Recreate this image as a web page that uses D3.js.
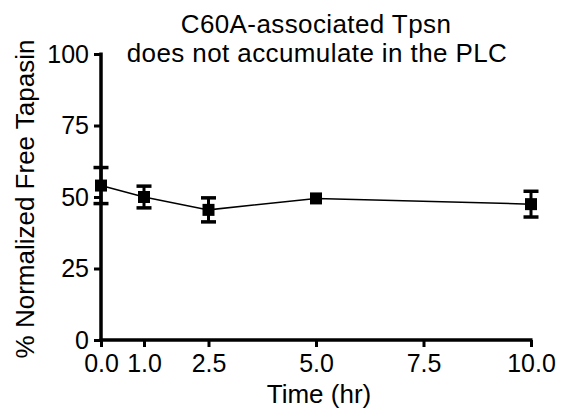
<!DOCTYPE html>
<html>
<head>
<meta charset="utf-8">
<script src="https://cdn.jsdelivr.net/npm/d3@7"></script>
<style>
body { margin: 0; background: #fff; }
text { font-family: "Liberation Sans", Arial, Helvetica, sans-serif; fill: #000; }
</style>
</head>
<body>
<svg width="565" height="411"></svg>
<script>
// data
var times = [0, 1, 2.5, 5, 10];
var means = [54, 50, 45.5, 49.5, 47.5];
var errs = [6.3, 3.8, 4.2, 0.4, 4.5];
var xTicks = [0, 1, 2.5, 5, 7.5, 10];
var yTicks = [0, 25, 50, 75, 100];

var svg = d3.select("svg");
var x = d3.scaleLinear().domain([0, 10]).range([101, 531]);
var y = d3.scaleLinear().domain([0, 100]).range([340, 54]);

var fs = 25;   // tick labels
var fsT = 26;  // titles

// axes
var yAxis = d3.axisLeft(y).tickValues(yTicks).tickSize(7).tickPadding(5).tickFormat(d3.format("d"));
var xAxis = d3.axisBottom(x).tickValues(xTicks).tickSize(7).tickPadding(7).tickFormat(d3.format(".1f"));

var gy = svg.append("g").attr("transform", "translate(101,0)").call(yAxis);
var gx = svg.append("g").attr("transform", "translate(0,340)").call(xAxis);
[gy, gx].forEach(function(g) {
    g.select(".domain").remove();
    g.selectAll("line").attr("stroke", "#000").attr("stroke-width", 3);
    g.selectAll("text").style("font-size", fs + "px").attr("fill", "#000")
        .style("font-family", "'Liberation Sans', Arial, sans-serif");
});
// axis lines
svg.append("line").attr("x1", x(0)).attr("x2", x(0)).attr("y1", y(100) - 1.5).attr("y2", y(0) + 1.5)
    .attr("stroke", "#000").attr("stroke-width", 3.5);
svg.append("line").attr("x1", x(0) - 1.5).attr("x2", x(10) + 1.5).attr("y1", y(0)).attr("y2", y(0))
    .attr("stroke", "#000").attr("stroke-width", 3.5);

// connecting line
var pts = times.map(function(t, i) { return [t, means[i]]; });
svg.append("path")
    .datum(pts)
    .attr("d", d3.line().x(function(d) { return x(d[0]); }).y(function(d) { return y(d[1]); }))
    .attr("fill", "none").attr("stroke", "#000").attr("stroke-width", 1.5);

// error bars
var cap = 7.5;
var eb = svg.append("g");
times.forEach(function(t, i) {
    var cx = x(t), hi = y(means[i] + errs[i]), lo = y(means[i] - errs[i]);
    eb.append("line").attr("x1", cx).attr("x2", cx).attr("y1", hi).attr("y2", lo)
        .attr("stroke", "#000").attr("stroke-width", 3);
    if (errs[i] > 1) {
        eb.append("line").attr("x1", cx - cap).attr("x2", cx + cap).attr("y1", hi).attr("y2", hi)
            .attr("stroke", "#000").attr("stroke-width", 3.5);
        eb.append("line").attr("x1", cx - cap).attr("x2", cx + cap).attr("y1", lo).attr("y2", lo)
            .attr("stroke", "#000").attr("stroke-width", 3.5);
    }
});

// markers
var sz = 12;
svg.selectAll("rect.pt")
    .data(pts)
    .enter()
    .append("rect")
    .attr("class", "pt")
    .attr("x", function(d) { return x(d[0]) - sz / 2; })
    .attr("y", function(d) { return y(d[1]) - sz / 2; })
    .attr("width", sz)
    .attr("height", sz)
    .attr("fill", "#000");

// title
svg.append("text").attr("x", 316).attr("y", 33).attr("text-anchor", "middle")
    .style("font-size", fsT + "px").style("letter-spacing", "0.4px").text("C60A-associated Tpsn");
svg.append("text").attr("x", 317).attr("y", 62).attr("text-anchor", "middle")
    .style("font-size", fsT + "px").style("letter-spacing", "0.4px").text("does not accumulate in the PLC");

// axis titles
svg.append("text").attr("x", 319).attr("y", 403).attr("text-anchor", "middle")
    .style("font-size", fsT + "px").text("Time (hr)");
svg.append("text").attr("transform", "translate(34,199) rotate(-90)").attr("text-anchor", "middle")
    .style("font-size", fsT + "px").text("% Normalized Free Tapasin");
</script>
</body>
</html>
